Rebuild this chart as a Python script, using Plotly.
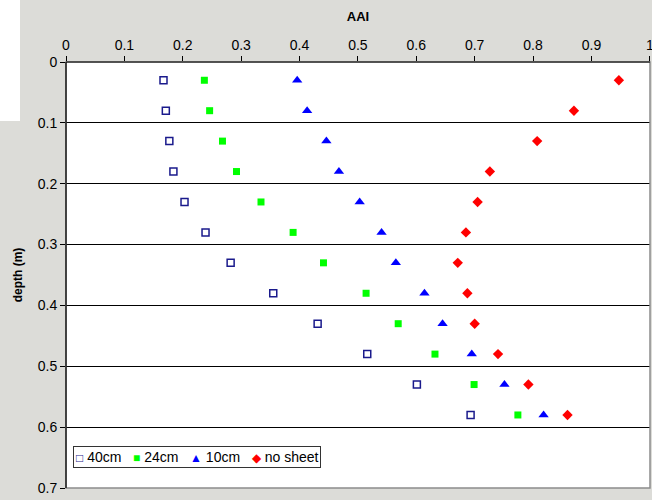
import plotly.graph_objects as go

# ---- data ----
depth = [0.03, 0.08, 0.13, 0.18, 0.23, 0.28, 0.33, 0.38, 0.43, 0.48, 0.53, 0.58]
aai_40cm = [0.167, 0.171, 0.177, 0.184, 0.203, 0.239, 0.282, 0.355, 0.431, 0.516, 0.601, 0.693]
aai_24cm = [0.237, 0.246, 0.268, 0.292, 0.334, 0.389, 0.441, 0.514, 0.569, 0.632, 0.699, 0.774]
aai_10cm = [0.396, 0.413, 0.446, 0.4675, 0.503, 0.5405, 0.565, 0.614, 0.645, 0.695, 0.751, 0.818]
aai_nosheet = [0.947, 0.870, 0.807, 0.726, 0.705, 0.685, 0.671, 0.6875, 0.700, 0.740, 0.792, 0.859]

series_names = ["40cm", "24cm", "10cm", "no sheet"]
x_ticks = [0, 0.1, 0.2, 0.3, 0.4, 0.5, 0.6, 0.7, 0.8, 0.9, 1]
y_ticks = [0, 0.1, 0.2, 0.3, 0.4, 0.5, 0.6, 0.7]

FONT = "Liberation Sans, Arial, sans-serif"
COL_40 = "#1a1a8c"
COL_24 = "#00ff00"
COL_10 = "#0000ff"
COL_NS = "#ff0000"

fig = go.Figure()
fig.add_trace(go.Scatter(x=aai_40cm, y=depth, mode="markers", name=series_names[0],
                         marker=dict(symbol="square-open", size=7, color=COL_40,
                                     line=dict(width=1.5, color=COL_40))))
fig.add_trace(go.Scatter(x=aai_24cm, y=depth, mode="markers", name=series_names[1],
                         marker=dict(symbol="square", size=7, color=COL_24,
                                     line=dict(width=0))))
fig.add_trace(go.Scatter(x=aai_10cm, y=depth, mode="markers", name=series_names[2],
                         marker=dict(symbol="triangle-up", size=9, color=COL_10,
                                     line=dict(width=0))))
fig.add_trace(go.Scatter(x=aai_nosheet, y=depth, mode="markers", name=series_names[3],
                         marker=dict(symbol="diamond", size=8, color=COL_NS,
                                     line=dict(width=0))))

W, H = 652, 500
L, R, T, B = 66, 2, 62, 12
pw, ph = W - L - R, H - T - B


def px_to_paper_x(px):
    return (px - L) / pw


def px_to_paper_y(py):
    return (H - B - py) / ph


shapes = [
    # white patch in the top-left corner of the background
    dict(type="rect", xref="paper", yref="paper", layer="below",
         x0=px_to_paper_x(-2), x1=px_to_paper_x(20),
         y0=px_to_paper_y(121), y1=px_to_paper_y(-2),
         fillcolor="white", line=dict(width=0)),
    # gray plot-area border
    dict(type="rect", xref="paper", yref="paper", layer="above",
         x0=0, x1=1, y0=0, y1=1, line=dict(color="#8c8c8c", width=1.5)),
    # black left/top axis lines
    dict(type="line", xref="paper", yref="paper", layer="above",
         x0=0, x1=0, y0=0, y1=1, line=dict(color="black", width=1.2)),
    dict(type="line", xref="paper", yref="paper", layer="above",
         x0=0, x1=1, y0=1, y1=1, line=dict(color="black", width=1.2)),
]

# compact legend, Excel style
sym_style = "font-size:12px"
gap = "&nbsp;&nbsp; "
legend_text = (
    f'<span style="color:{COL_40};{sym_style}">□</span> {series_names[0]}{gap}'
    f'<span style="color:{COL_24};{sym_style}">■</span> {series_names[1]}{gap}'
    f'<span style="color:{COL_10};{sym_style}">▲</span> {series_names[2]}{gap}'
    f'<span style="color:{COL_NS};{sym_style}">◆</span> {series_names[3]}'
)

fig.update_layout(
    width=W, height=H,
    margin=dict(l=L, r=R, t=T, b=B, autoexpand=False),
    paper_bgcolor="#dcdcd8",
    plot_bgcolor="white",
    font=dict(family=FONT, size=14, color="black"),
    showlegend=False,
    shapes=shapes,
    annotations=[dict(
        text=legend_text, xref="paper", yref="paper",
        x=px_to_paper_x(73), y=px_to_paper_y(446),
        xanchor="left", yanchor="top", showarrow=False,
        bgcolor="white", bordercolor="#333333", borderwidth=1, borderpad=2,
        font=dict(family=FONT, size=14, color="black"), align="left")],
    xaxis=dict(side="top", range=[0, 1.0003], tickvals=x_ticks,
               ticktext=[f"{v:g}" for v in x_ticks],
               ticks="outside", ticklen=5, tickcolor="black",
               ticklabeloverflow="allow", automargin=False,
               showline=False, showgrid=False, zeroline=False,
               tickfont=dict(family=FONT, size=14),
               title=dict(text="<b>AAI</b>", font=dict(family=FONT, size=13), standoff=12)),
    yaxis=dict(range=[0.7, 0], tickvals=y_ticks,
               ticktext=[f"{v:g}" for v in y_ticks],
               ticks="outside", ticklen=5, tickcolor="black",
               automargin=False,
               showline=False, showgrid=True, gridcolor="black", gridwidth=1,
               zeroline=False,
               tickfont=dict(family=FONT, size=14),
               title=dict(text="<b>depth (m)</b>", font=dict(family=FONT, size=12), standoff=12)),
)

fig.write_html("out.html", config={"displayModeBar": False},
               post_script="document.body.style.margin='0';document.body.style.overflow='hidden';")
